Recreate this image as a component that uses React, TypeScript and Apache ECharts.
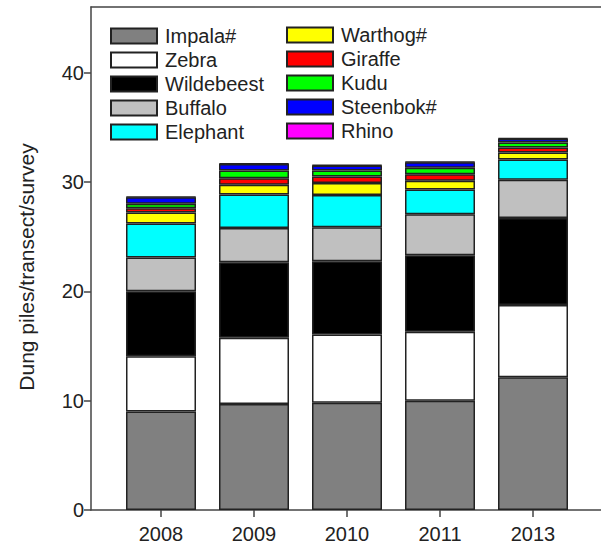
import React, { useEffect, useRef } from "react";
import * as echarts from "echarts";

const years = ["2008", "2009", "2010", "2011", "2013"];
const impala = [9.0, 9.7, 9.8, 10.0, 12.15];
const zebra = [5.05, 6.05, 6.25, 6.3, 6.6];
const wildebeest = [5.95, 6.9, 6.7, 7.0, 7.95];
const buffalo = [3.1, 3.15, 3.1, 3.75, 3.5];
const elephant = [3.1, 3.05, 2.95, 2.25, 1.85];
const warthog = [1.0, 0.9, 1.1, 0.8, 0.65];
const giraffe = [0.4, 0.6, 0.6, 0.6, 0.45];
const kudu = [0.4, 0.7, 0.55, 0.6, 0.45];
const steenbok = [0.6, 0.6, 0.45, 0.5, 0.35];
const rhino = [0.05, 0.05, 0.05, 0.05, 0.05];

const seriesDefs = [
  { name: "Impala#", data: impala, color: "#808080" },
  { name: "Zebra", data: zebra, color: "#ffffff" },
  { name: "Wildebeest", data: wildebeest, color: "#000000" },
  { name: "Buffalo", data: buffalo, color: "#c0c0c0" },
  { name: "Elephant", data: elephant, color: "#00ffff" },
  { name: "Warthog#", data: warthog, color: "#ffff00" },
  { name: "Giraffe", data: giraffe, color: "#ff0000" },
  { name: "Kudu", data: kudu, color: "#00ff00" },
  { name: "Steenbok#", data: steenbok, color: "#0000ff" },
  { name: "Rhino", data: rhino, color: "#ff00ff" },
];

const FONT = "'Liberation Sans', Arial, sans-serif";
const TEXT = "#222";
const AXIS = "#444";

export default function App() {
  const ref = useRef<HTMLDivElement>(null);
  useEffect(() => {
    if (!ref.current) return;
    const chart = echarts.init(ref.current, undefined, { renderer: "svg" });
    const legendBase = {
      orient: "vertical" as const,
      itemWidth: 46,
      itemHeight: 15,
      itemGap: 4,
      icon: "rect",
      textStyle: {
        fontFamily: FONT,
        fontSize: 20,
        color: TEXT,
        lineHeight: 20,
        padding: [0, 0, 0, 3],
      },
    };
    chart.setOption({
      animation: false,
      backgroundColor: "#fff",
      textStyle: { fontFamily: FONT },
      legend: [
        {
          ...legendBase,
          left: 105,
          top: 21,
          data: seriesDefs.slice(0, 5).map((s) => s.name),
        },
        {
          ...legendBase,
          left: 281,
          top: 20,
          data: seriesDefs.slice(5).map((s) => s.name),
        },
      ],
      grid: [
        { left: 91, right: 0, top: 7, bottom: 35 },
        { left: 114.5, right: 21.5, top: 7, bottom: 35 },
      ],
      xAxis: [
        {
          type: "value",
          gridIndex: 0,
          min: 0,
          max: 1,
          position: "bottom",
          axisLine: { show: true, lineStyle: { color: AXIS, width: 1.5 } },
          axisTick: { show: false },
          axisLabel: { show: false },
          splitLine: { show: false },
        },
        {
          type: "value",
          gridIndex: 0,
          min: 0,
          max: 1,
          position: "top",
          axisLine: { show: true, lineStyle: { color: AXIS, width: 1.5 } },
          axisTick: { show: false },
          axisLabel: { show: false },
          splitLine: { show: false },
        },
        {
          type: "category",
          gridIndex: 1,
          data: years,
          axisLine: { show: false },
          axisTick: {
            show: true,
            alignWithLabel: true,
            length: 7,
            lineStyle: { color: AXIS, width: 1.5 },
          },
          axisLabel: { fontSize: 20, color: TEXT, fontFamily: FONT, margin: 14 },
        },
      ],
      yAxis: [
        {
          type: "value",
          gridIndex: 0,
          min: 0,
          max: 46,
          interval: 10,
          axisLine: { show: true, lineStyle: { color: AXIS, width: 1.5 } },
          axisTick: { show: true, length: 7, lineStyle: { color: AXIS, width: 1.5 } },
          axisLabel: { fontSize: 20, color: TEXT, fontFamily: FONT, margin: 7, showMaxLabel: false },
          splitLine: { show: false },
        },
        {
          type: "value",
          gridIndex: 1,
          min: 0,
          max: 46,
          show: false,
          splitLine: { show: false },
        },
      ],
      graphic: [
        {
          type: "text",
          x: 26,
          y: 267,
          rotation: Math.PI / 2,
          style: {
            text: "Dung piles/transect/survey",
            fontSize: 21,
            fontFamily: FONT,
            fill: TEXT,
            align: "center",
            verticalAlign: "middle",
          },
        },
      ],
      series: seriesDefs.map((s) => ({
        name: s.name,
        type: "bar",
        stack: "total",
        xAxisIndex: 2,
        yAxisIndex: 1,
        barWidth: 70,
        data: s.data,
        itemStyle: { color: s.color, borderColor: "#222", borderWidth: 1.5 },
      })),
    });
    return () => chart.dispose();
  }, []);
  return (
    <div
      ref={ref}
      style={{ position: "fixed", left: 0, top: 0, width: 601, height: 545 }}
    />
  );
}
